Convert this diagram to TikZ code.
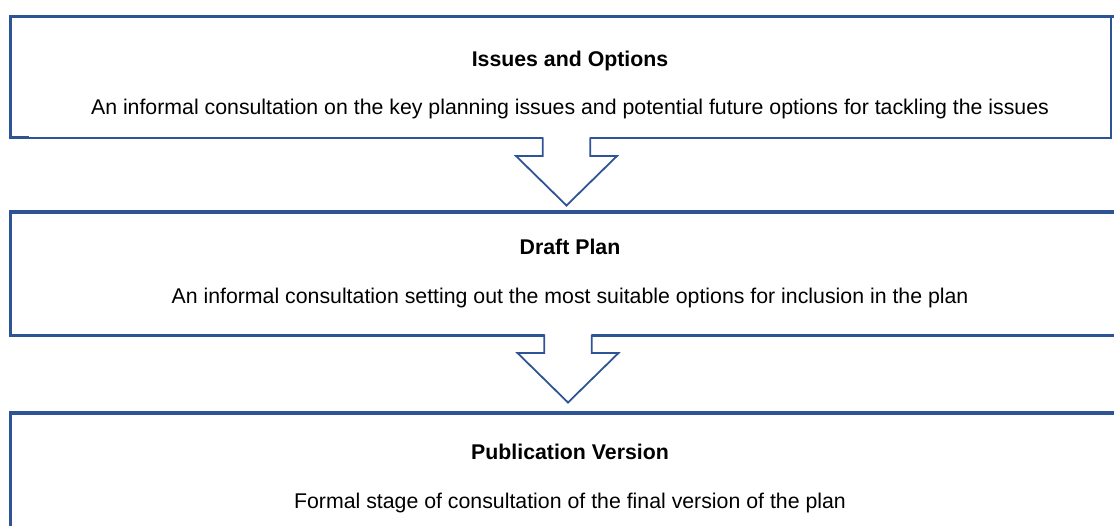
\documentclass[tikz,border=0pt]{standalone}
\usepackage{fontspec}
\setmainfont{Liberation Sans}
\definecolor{frameblue}{RGB}{47,84,150}
\begin{document}
\begin{tikzpicture}[x=1pt,y=-1pt,
  heading/.style={font=\fontsize{21.3}{25}\selectfont\bfseries, anchor=base, inner sep=0pt},
  bodytext/.style={font=\fontsize{21.3}{25}\selectfont, anchor=base, inner sep=0pt},
  thickframe/.style={draw=frameblue, line width=3.5pt, line cap=butt, line join=miter},
  thinframe/.style={draw=frameblue, line width=2pt},
  arrowline/.style={draw=frameblue, line width=1.8pt, line join=miter},
  downarrow/.pic={
    \fill[white] (-23.75,-2) -- (-23.75,18) -- (-50.5,18) -- (0,67.5) -- (50.5,18) -- (23.75,18) -- (23.75,-2) -- cycle;
    \draw[arrowline] (-23.75,-0.5) -- (-23.75,18) -- (-50.5,18) -- (0,67.5) -- (50.5,18) -- (23.75,18) -- (23.75,-0.5);
  }]
\useasboundingbox (0,0) rectangle (1114,526);
\clip (0,0) rectangle (1114,526);

% Box 1
\draw[thickframe] (10.5,138.5) -- (10.5,16.5) -- (1125,16.5);
\draw[thinframe] (10.5,138) -- (1111,138) -- (1111,16.5);
\draw[draw=frameblue, line width=3pt] (9,137.5) -- (29,137.5);
\node[heading] (h1) at (570,66.5) {Issues and Options};
\node[bodytext] (b1) at (570,114.5) {An informal consultation on the key planning issues and potential future options for tackling the issues};

% Box 2
\draw[thickframe] (1125,212) -- (10.5,212) -- (10.5,335.5) -- (1125,335.5);
\node[heading] (h2) at (570,255) {Draft Plan};
\node[bodytext] (b2) at (570,304) {An informal consultation setting out the most suitable options for inclusion in the plan};

% Box 3
\draw[thickframe] (1125,413) -- (10.5,413) -- (10.5,540);
\node[heading] (h3) at (570,460) {Publication Version};
\node[bodytext] (b3) at (570,508.5) {Formal stage of consultation of the final version of the plan};

% Arrows
\coordinate (a1) at (566.5,138);
\coordinate (a2) at (568,335);
\pic at (a1) {downarrow};
\pic at (a2) {downarrow};
\end{tikzpicture}
\end{document}
